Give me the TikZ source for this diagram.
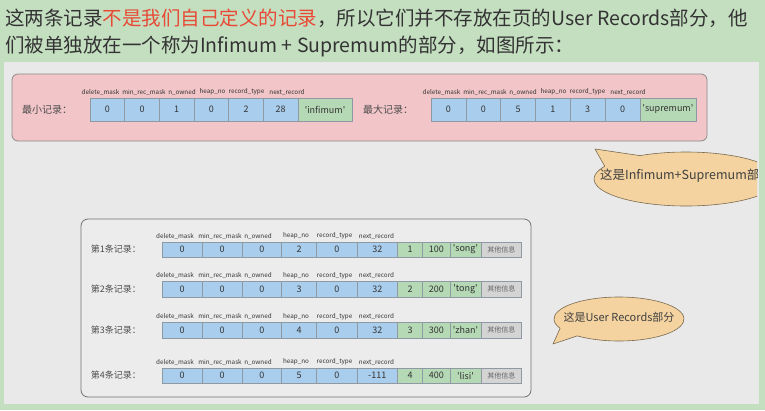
\documentclass[tikz,border=0pt]{standalone}
\usepackage{fontspec}
\newfontfamily\nsc{Noto Sans CJK SC}
\usetikzlibrary{shapes.geometric}
\definecolor{bggreen}{HTML}{C4DEC0}
\definecolor{panelgray}{HTML}{E9E9E9}
\definecolor{pinkbox}{HTML}{F2C5C8}
\definecolor{bluecell}{HTML}{A9CDEC}
\definecolor{greencell}{HTML}{B5D8B5}
\definecolor{graycell}{HTML}{D4D4D4}
\definecolor{calloutfill}{HTML}{F4D3A0}
\definecolor{txt}{HTML}{333333}
\definecolor{redtxt}{HTML}{E84A35}
\definecolor{boxborder}{HTML}{8A8A8A}
\definecolor{cellborder}{HTML}{8F99A3}
\tikzset{
  cellbase/.style={draw=cellborder, line width=0.4pt, inner sep=0pt, text=txt, font=\nsc\fontsize{9}{10}\selectfont},
  bcell/.style={cellbase, fill=bluecell},
  gcell/.style={cellbase, fill=greencell},
  ocell/.style={cellbase, fill=graycell, text=black!60, font=\nsc\fontsize{7}{8}\selectfont},
  fieldlab/.style={inner sep=0pt, text=txt, font=\nsc\fontsize{6.3}{7}\selectfont},
  rowlabel/.style={anchor=west, inner sep=0pt, text=black!70, font=\nsc\fontsize{9}{10}\selectfont},
  toplabel/.style={anchor=west, inner sep=0pt, text=black!70, font=\nsc\fontsize{10}{11}\selectfont},
  titletext/.style={anchor=base west, inner sep=0pt, text=txt, font=\nsc\fontsize{19.5}{22}\selectfont},
  bubble/.style={draw=black!50!calloutfill, fill=calloutfill, line width=0.6pt, line join=round},
  bubbletext/.style={inner sep=0pt, text=black!75},
}
\newcommand\userrow[8]{%
  \node[rowlabel] (#1lab) at (90.7,#2) {第#3条记录：};
  \foreach \v/\xa/\xb [count=\i] in {0/162/202, 0/202/242, 0/242/281.5, #4/281.5/316.5, 0/316.5/357, #5/357/397.5}
    \node[bcell, minimum width={\xb-\xa}, minimum height=15.5] (#1c\i) at ({(\xa+\xb)/2},#2) {\v};
  \foreach \f/\x [count=\i] in {delete\_mask/175, min\_rec\_mask/220, n\_owned/258, heap\_no/296, record\_type/334.5, next\_record/376.5}
    \node[fieldlab] (#1f\i) at (\x,{#2-13.5}) {\f};
  \node[gcell, minimum width=25, minimum height=15.5] (#1g1) at (410,#2) {#6};
  \node[gcell, minimum width=27.5, minimum height=15.5] (#1g2) at (436.25,#2) {#7};
  \node[gcell, minimum width=31, minimum height=15.5] (#1g3) at (465.5,#2) {#8};
  \node[ocell, minimum width=40.5, minimum height=15.5] (#1o) at (501.25,#2) {其他信息};
}
\begin{document}
\begin{tikzpicture}[x=1pt,y=-1pt]
\fill[bggreen] (0,0) rectangle (765,410);
\useasboundingbox (0,0) rectangle (765,410);
\fill[panelgray] (4,62) rectangle (759,404);

% title
\node[titletext] (t1) at (5,25) {这两条记录\textcolor{redtxt}{不是我们自己定义的记录}，所以它们并不存放在页的User Records部分，他};
\node[titletext] (t2) at (5,52) {们被单独放在一个称为Infimum + Supremum的部分，如图所示：};

% pink box
\draw[draw=boxborder, fill=pinkbox, line width=0.8pt, rounded corners=6pt] (12,74) rectangle (707,141);

% minimum record
\node[toplabel] (minlab) at (22,110) {最小记录：};
\foreach \v [count=\i] in {0,0,1,0,2,28}
  \node[bcell, minimum width=34.67, minimum height=23] (mn\i) at ({90+34.67*(\i-0.5)},109.5) {\v};
\node[gcell, minimum width=54, minimum height=23] (mng) at (325,109.5) {'infimum'};
\foreach \f/\x [count=\i] in {delete\_mask/100.5, min\_rec\_mask/144, n\_owned/182, heap\_no/212.5, record\_type/246.5, next\_record/287}
  \node[fieldlab] (mnf\i) at (\x,92) {\f};

% maximum record
\node[toplabel] (maxlab) at (363,110) {最大记录：};
\foreach \v [count=\i] in {0,0,5,1,3,0}
  \node[bcell, minimum width=34.83, minimum height=23] (mx\i) at ({431+34.83*(\i-0.5)},109.5) {\v};
\node[gcell, minimum width=56, minimum height=23] (mxg) at (668,109.5) {'supremum'};
\foreach \f/\x [count=\i] in {delete\_mask/441.5, min\_rec\_mask/485, n\_owned/523, heap\_no/553.5, record\_type/587.5, next\_record/628}
  \node[fieldlab] (mxf\i) at (\x,92) {\f};

% callout 1 (clipped by panel)
\coordinate (c1c) at (686,179);
\coordinate (c1tip) at (595,149);
\begin{scope}
  \clip (4,62) rectangle (757,404);
  \draw[bubble] (c1c) ++(240:92 and 27) arc[start angle=240, end angle=568, x radius=92, y radius=27] -- (c1tip) -- cycle;
  \node[bubbletext, font=\nsc\fontsize{12.5}{14}\selectfont] (c1) at (686,176) {这是Infimum+Supremum部分};
\end{scope}

% user records panel
\draw[draw=black!55, fill=panelgray!85!white, line width=0.8pt, rounded corners=7pt] (81,219) rectangle (531,397);
\userrow{ra}{249.5}{1}{2}{32}{1}{100}{'song'}
\userrow{rb}{289.2}{2}{3}{32}{2}{200}{'tong'}
\userrow{rc}{330.2}{3}{4}{32}{3}{300}{'zhan'}
\userrow{rd}{375.5}{4}{5}{-111}{4}{400}{'lisi'}

% callout 2
\coordinate (c2c) at (619,319);
\coordinate (c2tip) at (553,344);
\draw[bubble] (c2c) ++(155:65 and 22) arc[start angle=155, end angle=490, x radius=65, y radius=22] -- (c2tip) -- cycle;
\node[bubbletext, font=\nsc\fontsize{11}{12}\selectfont] (c2) at (619,317) {这是User Records部分};
\end{tikzpicture}
\end{document}
